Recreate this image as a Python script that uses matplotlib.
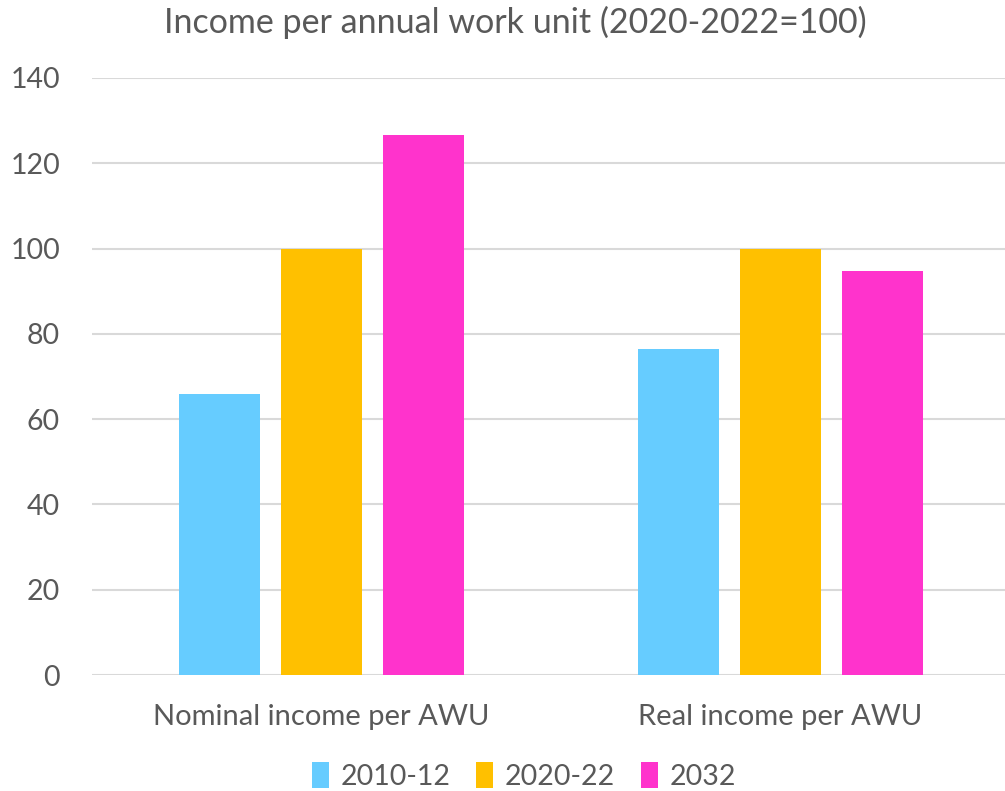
import matplotlib
matplotlib.use("Agg")
import matplotlib.pyplot as plt
import numpy as np
from matplotlib.patches import Patch

categories = ["Nominal income per AWU", "Real income per AWU"]
series_names = ["2010-12", "2020-22", "2032"]
values_2010 = [66.0, 76.5]
values_2020 = [100.0, 100.0]
values_2032 = [126.7, 94.7]
colors = ["#66CCFF", "#FFC000", "#FF33CC"]
yticks = [0, 20, 40, 60, 80, 100, 120, 140]

plt.rcParams['font.family'] = ['Lato', 'DejaVu Sans']
txt = "#595959"

fig = plt.figure(figsize=(10.05, 7.91), dpi=100)
ax = fig.add_axes([92/1005, 1-675/791, 918/1005, (675-78)/791])

x = np.arange(len(categories))
w = 0.176
step = 0.222
for i, (vals, c) in enumerate(zip([values_2010, values_2020, values_2032], colors)):
    ax.bar(x + (i-1)*step, vals, width=w, color=c, zorder=3, label=series_names[i])

ax.set_xlim(-0.5, 1.5)
ax.set_ylim(0, 140)
ax.set_yticks(yticks)
ax.set_yticklabels([str(t) for t in yticks], fontsize=20.5, color=txt)
ax.set_xticks(x)
ax.set_xticklabels(categories, fontsize=21, color=txt)
ax.tick_params(axis='both', length=0)
ax.tick_params(axis='y', pad=23)
ax.tick_params(axis='x', pad=21)
ax.grid(axis='y', color="#D9D9D9", linewidth=1.5, zorder=0)
for s in ax.spines.values():
    s.set_visible(False)

fig.text(515/1005, 1-22/791, "Income per annual work unit (2020-2022=100)", ha='center', va='center',
         fontsize=24.5, color=txt)

handles = [Patch(facecolor=c, edgecolor='none') for c in colors]
fig.legend(handles, series_names, loc='center', bbox_to_anchor=(524/1005, 1-776/791), ncol=3,
           frameon=False, fontsize=20.5, labelcolor=txt, handlelength=0.6, handleheight=1.0,
           handletextpad=0.4, columnspacing=0.9)

fig.savefig("out.png", dpi=100, facecolor='white')
